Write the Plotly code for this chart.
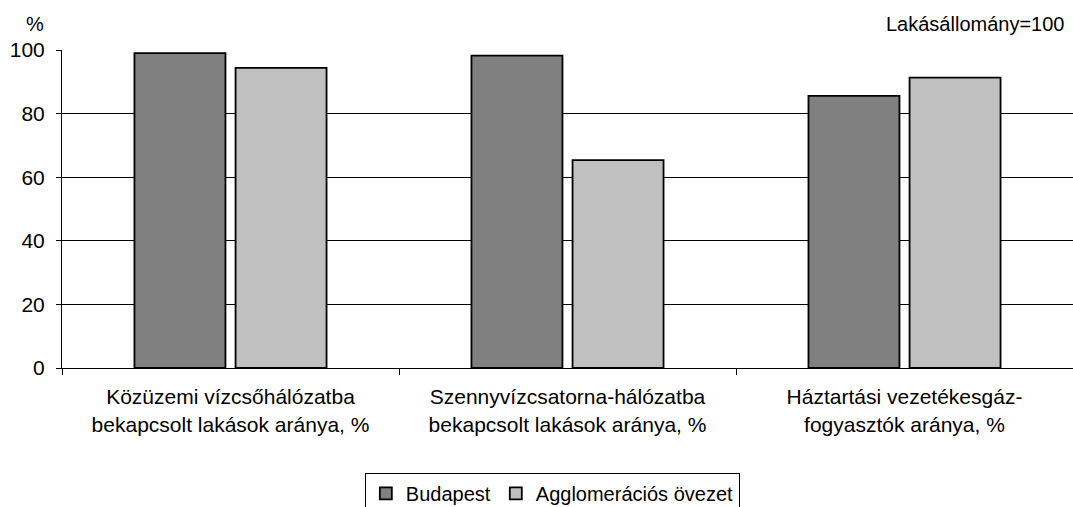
import plotly.graph_objects as go

categories = [
    "Közüzemi vízcsőhálózatba<br>bekapcsolt lakások aránya, %",
    "Szennyvízcsatorna-hálózatba<br>bekapcsolt lakások aránya, %",
    "Háztartási vezetékesgáz-<br>fogyasztók aránya, %",
]
budapest = [99.0, 98.2, 85.6]
agglomeracio = [94.4, 65.4, 91.3]
series_names = ["Budapest", "Agglomerációs övezet"]
y_ticks = [0, 20, 40, 60, 80, 100]

FONT = "Liberation Sans, Arial, sans-serif"
FS = 21

fig = go.Figure()
fig.add_trace(go.Bar(
    x=categories, y=budapest, name=series_names[0],
    marker=dict(color="#808080", line=dict(color="black", width=1.8)),
))
fig.add_trace(go.Bar(
    x=categories, y=agglomeracio, name=series_names[1],
    marker=dict(color="#C0C0C0", line=dict(color="black", width=1.8)),
))

fig.update_layout(
    width=1073, height=507,
    margin=dict(l=62, r=0, t=50, b=139, autoexpand=False),
    paper_bgcolor="white", plot_bgcolor="white",
    barmode="group", bargap=0.4, bargroupgap=0.1,
    font=dict(family=FONT, size=FS, color="black"),
    showlegend=True,
    legend=dict(
        orientation="h", x=0.485, xanchor="center", y=-0.33, yanchor="top",
        bordercolor="black", borderwidth=1, bgcolor="white",
        font=dict(family=FONT, size=FS - 1, color="black"),
        itemwidth=30, tracegroupgap=0,
    ),
    xaxis=dict(
        type="category", showline=True, linecolor="black", linewidth=1,
        ticks="outside", tickson="boundaries", ticklen=6, tickcolor="black",
        tickfont=dict(family=FONT, size=FS, color="black"),
        ticklabelstandoff=10, automargin=False,
        showgrid=False,
    ),
    yaxis=dict(
        range=[0, 100], tickvals=y_ticks, ticktext=[str(v) for v in y_ticks],
        showline=True, linecolor="black", linewidth=1,
        ticks="outside", ticklen=5, tickcolor="black",
        showgrid=True, gridcolor="black", gridwidth=1,
        zeroline=False, ticklabelstandoff=7, automargin=False,
        tickfont=dict(family=FONT, size=FS, color="black"),
    ),
    annotations=[
        dict(text="%", xref="paper", yref="paper", x=-0.027, y=1.082,
             xanchor="center", yanchor="middle", showarrow=False,
             font=dict(family=FONT, size=FS - 1, color="black")),
        dict(text="Lakásállomány=100", xref="paper", yref="paper", x=0.993, y=1.082,
             xanchor="right", yanchor="middle", showarrow=False,
             font=dict(family=FONT, size=FS - 1, color="black")),
    ],
)

fig.write_html("out.html", config={"displayModeBar": False},
               post_script="document.body.style.margin='0';document.body.style.overflow='hidden';")
